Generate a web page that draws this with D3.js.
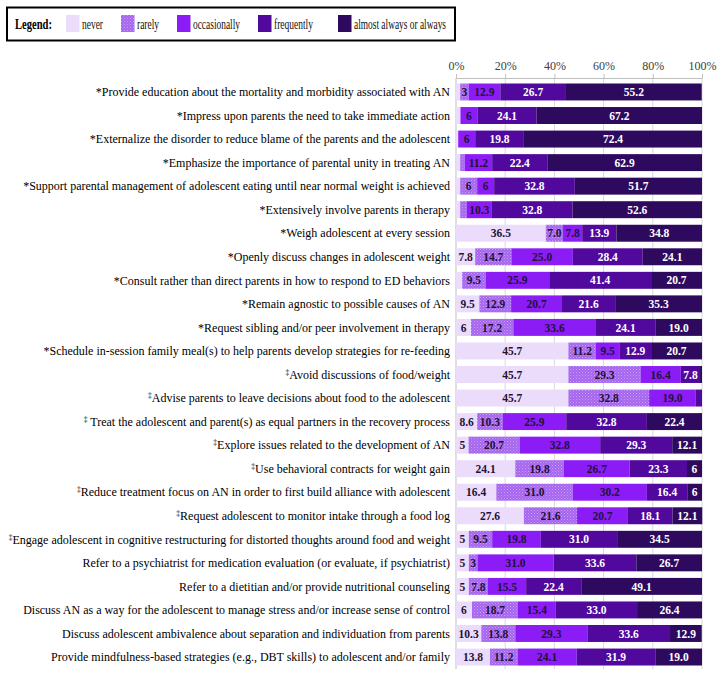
<!DOCTYPE html>
<html><head><meta charset="utf-8">
<script src="https://cdn.jsdelivr.net/npm/d3@7"></script>
<style>
body{margin:0;background:#fff;}
svg{display:block;}
</style></head>
<body>
<svg id="chart" width="723" height="677"></svg>
<script>
const categories = [
 "Provide education about the mortality and morbidity associated with AN",
 "Impress upon parents the need to take immediate action",
 "Externalize the disorder to reduce blame of the parents and the adolescent",
 "Emphasize the importance of parental unity in treating AN",
 "Support parental management of adolescent eating until near normal weight is achieved",
 "Extensively involve parents in therapy",
 "Weigh adolescent at every session",
 "Openly discuss changes in adolescent weight",
 "Consult rather than direct parents in how to respond to ED behaviors",
 "Remain agnostic to possible causes of AN",
 "Request sibling and/or peer involvement in therapy",
 "Schedule in-session family meal(s) to help parents develop strategies for re-feeding",
 "Avoid discussions of food/weight",
 "Advise parents to leave decisions about food to the adolescent",
 " Treat the adolescent and parent(s) as equal partners in the recovery process",
 "Explore issues related to the development of AN",
 "Use behavioral contracts for weight gain",
 "Reduce treatment focus on AN in order to first build alliance with adolescent",
 "Request adolescent to monitor intake through a food log",
 "Engage adolescent in cognitive restructuring for distorted thoughts around food and weight",
 "Refer to a psychiatrist for medication evaluation (or evaluate, if psychiatrist)",
 "Refer to a dietitian and/or provide nutritional counseling",
 "Discuss AN as a way for the adolescent to manage stress and/or increase sense of control",
 "Discuss adolescent ambivalence about separation and individuation from parents",
 "Provide mindfulness-based strategies (e.g., DBT skills) to adolescent and/or family"
];
const markers = ["*","*","*","*","*","*","*","*","*","*","*","*","‡","‡","‡","‡","‡","‡","‡","‡","","","","",""];
const seriesNames = ["never","rarely","occasionally","frequently","almost always or always"];
const never        = [1.7,1.8,0.9,1.7,1.7,1.7,36.5,7.8,2.5,9.5,6.1,45.7,45.7,45.7,8.6,5.1,24.1,16.4,27.6,5.2,5.2,5.2,6.5,10.3,13.8];
const rarely       = [3.4,0,0,1.8,6.9,2.6,7.0,14.7,9.5,12.9,17.2,11.2,29.3,32.8,10.3,20.7,19.8,31.0,21.6,9.5,3.5,7.8,18.7,13.8,11.2];
const occasionally = [12.9,6.9,6.9,11.2,6.9,10.3,7.8,25.0,25.9,20.7,33.6,9.5,16.4,19.0,25.9,32.8,26.7,30.2,20.7,19.8,31.0,15.5,15.4,29.3,24.1];
const frequently   = [26.7,24.1,19.8,22.4,32.8,32.8,13.9,28.4,41.4,21.6,24.1,12.9,7.8,2.5,32.8,29.3,23.3,16.4,18.1,31.0,33.6,22.4,33.0,33.6,31.9];
const always       = [55.2,67.2,72.4,62.9,51.7,52.6,34.8,24.1,20.7,35.3,19.0,20.7,0.8,0,22.4,12.1,6.1,6.0,12.1,34.5,26.7,49.1,26.4,12.9,19.0];
const xTicks = [0,20,40,60,80,100];
const colors = ["#ebdcfc","url(#rarelyPat)","#8c1cf6","#51089c","#2e0a5f"];
const textColors = ["#1f1235","#1f1235","#1f1235","#ffffff","#ffffff"];

const svg = d3.select("#chart");
const defs = svg.append("defs");
const pat = defs.append("pattern").attr("id","rarelyPat").attr("patternUnits","userSpaceOnUse")
  .attr("width",3).attr("height",3);
pat.append("rect").attr("width",3).attr("height",3).attr("fill","#a565ee");
pat.append("rect").attr("x",0).attr("y",0).attr("width",1).attr("height",1).attr("fill","#c8a0f7");
pat.append("rect").attr("x",1.5).attr("y",1.5).attr("width",1).attr("height",1).attr("fill","#bd8cf4");

const x = d3.scaleLinear().domain([0,100]).range([456,702]);
const y = d3.scaleBand().domain(categories).range([80.2,668.8]).paddingInner(0.28).paddingOuter(0.14);

// gridlines
svg.append("g").selectAll("line").data(xTicks.slice(1)).join("line")
  .attr("x1",d=>x(d)).attr("x2",d=>x(d)).attr("y1",78).attr("y2",669)
  .attr("stroke","#d9d9d9").attr("stroke-width",1);

// top axis
const ax = svg.append("g").attr("transform","translate(0,78)")
  .call(d3.axisTop(x).tickValues(xTicks).tickFormat(d=>d+"%").tickSize(4).tickSizeOuter(0));
ax.select(".domain").attr("stroke","#bfbfbf");
ax.selectAll(".tick line").attr("stroke","#bfbfbf");
ax.selectAll("text").attr("font-family","Liberation Serif").attr("font-size",12).attr("fill","#404040").attr("dy","-0.1em");
svg.append("line").attr("x1",456).attr("x2",456).attr("y1",78).attr("y2",669).attr("stroke","#bfbfbf");

const series = [never,rarely,occasionally,frequently,always];
const rows = categories.map((c,i)=>{
  let acc=0;
  return series.map((s,k)=>{ const v=s[i]; const r={cat:c,k,v,x0:acc,x1:acc+v}; acc+=v; return r; });
});

const rowG = svg.append("g").selectAll("g").data(rows).join("g");
rowG.selectAll("rect").data(d=>d.filter(s=>s.v>0)).join("rect")
  .attr("x",d=>x(d.x0)).attr("width",d=>x(d.x1)-x(d.x0))
  .attr("y",d=>y(d.cat)).attr("height",y.bandwidth())
  .attr("fill",d=>colors[d.k]);

const fmt = v => v < 7 ? String(Math.floor(v)) : v.toFixed(1);
rowG.selectAll("text").data(d=>d.filter(s=>s.v>=3)).join("text")
  .attr("x",d=>x((d.x0+d.x1)/2)).attr("y",d=>y(d.cat)+y.bandwidth()/2)
  .attr("dy","0.36em").attr("text-anchor","middle")
  .attr("font-family","Liberation Serif").attr("font-weight","bold").attr("font-size",11.5)
  .attr("fill",d=>textColors[d.k]).text(d=>fmt(d.v));

// category labels
const lab = svg.append("g").selectAll("text").data(categories).join("text")
  .attr("x",450).attr("y",d=>y(d)+y.bandwidth()/2).attr("dy","0.35em")
  .attr("text-anchor","end").attr("font-family","Liberation Serif").attr("font-size",12).attr("fill","#000");
lab.each(function(d,i){
  const t=d3.select(this);
  const m=markers[i];
  if(m==="*"){ t.append("tspan").text("*"+d); }
  else if(m==="‡"){
    t.append("tspan").attr("font-size",7.5).attr("baseline-shift","super").text("‡");
    t.append("tspan").text(d);
  } else t.append("tspan").text(d);
});

// legend
const lg = svg.append("g");
lg.append("rect").attr("x",7).attr("y",7.5).attr("width",448).attr("height",33)
  .attr("fill","#fff").attr("stroke","#000").attr("stroke-width",2);
lg.append("text").attr("x",15).attr("y",24).attr("dy","0.35em").attr("font-family","Liberation Serif")
  .attr("font-weight","bold").attr("font-size",15).attr("textLength",37).attr("lengthAdjust","spacingAndGlyphs").text("Legend:");
const legX = [66,121,177,258,338];
const legW = [21,22,47,39,92];
const li = lg.selectAll("g.li").data(seriesNames).join("g").attr("class","li")
  .attr("transform",(d,i)=>`translate(${legX[i]},0)`);
li.append("rect").attr("x",0).attr("y",15).attr("width",13.5).attr("height",17)
  .attr("fill",(d,i)=>colors[i]);
li.append("text").attr("x",16).attr("y",24).attr("dy","0.35em").attr("font-family","Liberation Serif")
  .attr("font-size",15).attr("fill","#111")
  .attr("textLength",(d,i)=>legW[i]).attr("lengthAdjust","spacingAndGlyphs").text(d=>d);
</script>
</body></html>
